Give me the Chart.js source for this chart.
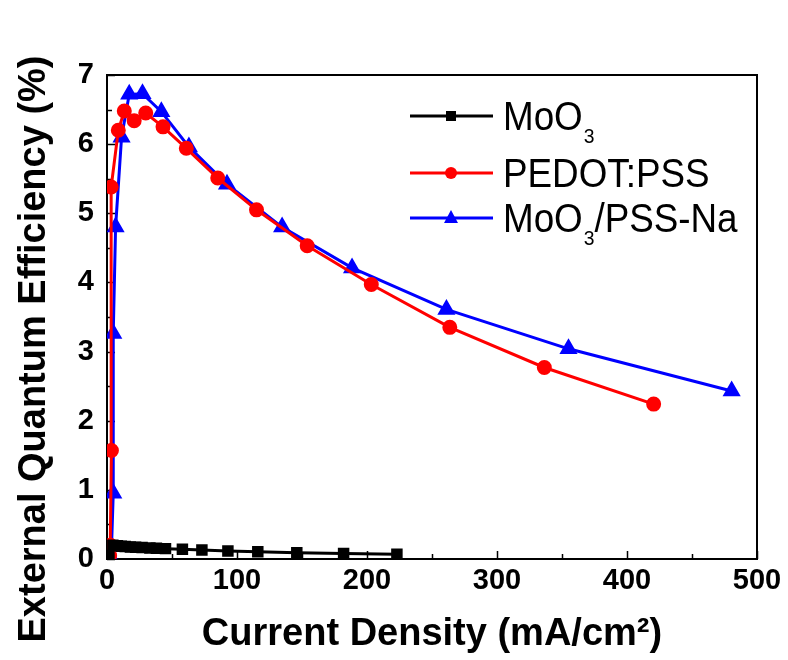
<!DOCTYPE html>
<html>
<head>
<meta charset="utf-8">
<script src="https://cdn.jsdelivr.net/npm/chart.js@4.4.1/dist/chart.umd.min.js"></script>
<style>
  html, body { margin: 0; padding: 0; background: #fff; }
  #wrap { width: 788px; height: 660px; }
</style>
</head>
<body>
<div id="wrap"><canvas id="eqeChart" width="788" height="660"></canvas></div>
<script>
// data
const moo3X = [1.5, 4.5, 8, 11, 14, 18, 22, 27, 33, 38, 45, 58, 73, 93, 116, 146, 182, 223];
const moo3Y = [0.05, 0.2, 0.19, 0.185, 0.18, 0.175, 0.17, 0.165, 0.16, 0.155, 0.15, 0.14, 0.13, 0.115, 0.105, 0.09, 0.08, 0.07];

const pedotX = [2, 2.5, 3.4, 3.2, 8.7, 13.3, 20.9, 29.8, 43.1, 61, 85.2, 115, 154, 203.3, 263.7, 336.4, 420.5];
const pedotY = [0.05, 0.2, 1.57, 5.38, 6.2, 6.48, 6.34, 6.45, 6.25, 5.94, 5.51, 5.05, 4.53, 3.97, 3.35, 2.77, 2.24];

const naX = [2, 3.5, 4.8, 4.8, 6.6, 11.2, 17.1, 27.3, 41.8, 63, 92.3, 134.7, 188.5, 261.1, 355, 480.5];
const naY = [0.05, 0.18, 0.95, 3.26, 4.8, 6.1, 6.72, 6.73, 6.47, 5.96, 5.42, 4.8, 4.21, 3.61, 3.04, 2.43];

const xTicks = [0, 100, 200, 300, 400, 500];
const yTicks = [0, 1, 2, 3, 4, 5, 6, 7];

const seriesNames = ['MoO3', 'PEDOT:PSS', 'MoO3/PSS-Na'];
const seriesColors = ['#000000', '#ff0000', '#0000ff'];
const seriesMarkers = ['rect', 'circle', 'triangle'];

const FONT = "'Liberation Sans', Arial, sans-serif";

function pts(xs, ys) {
  return xs.map((x, i) => ({ x: x, y: ys[i] }));
}

// frame, inward ticks, y title and legend
const decor = {
  id: 'decor',
  beforeDatasetsDraw(chart) {
    const { ctx, chartArea: a, scales: { x, y } } = chart;
    ctx.save();
    ctx.strokeStyle = '#000';
    ctx.lineWidth = 1.5;
    ctx.beginPath();
    // y ticks (major + half step)
    for (let v = 0; v <= 7; v += 0.5) {
      const py = Math.round(y.getPixelForValue(v)) + 0.5;
      const len = (v % 1 === 0) ? 8 : 5;
      ctx.moveTo(a.left, py);
      ctx.lineTo(a.left + len, py);
    }
    for (let v = 0; v <= 500; v += 50) {
      const px = Math.round(x.getPixelForValue(v)) + 0.5;
      const len = (v % 100 === 0) ? 8 : 5;
      ctx.moveTo(px, a.bottom);
      ctx.lineTo(px, a.bottom - len);
    }
    ctx.stroke();
    ctx.lineWidth = 2;
    ctx.strokeRect(a.left, a.top, a.right - a.left, a.bottom - a.top);
    ctx.restore();
  },
  afterDraw(chart) {
    const { ctx } = chart;
    ctx.save();
    // y axis title
    ctx.translate(35, 349);
    ctx.rotate(-Math.PI / 2);
    ctx.fillStyle = '#000';
    ctx.font = 'bold 38px ' + FONT;
    ctx.textAlign = 'center';
    ctx.textBaseline = 'middle';
    ctx.fillText('External Quantum Efficiency (%)', 0, 0);
    ctx.restore();

    // legend
    const rows = [116, 173, 218];
    ctx.save();
    ctx.lineWidth = 3;
    rows.forEach((ry, i) => {
      const col = seriesColors[i];
      ctx.strokeStyle = col;
      ctx.fillStyle = col;
      ctx.beginPath();
      ctx.moveTo(410, ry);
      ctx.lineTo(493, ry);
      ctx.stroke();
      const mx = 451;
      ctx.beginPath();
      if (seriesMarkers[i] === 'rect') {
        ctx.fillRect(mx - 5, ry - 5, 10, 10);
      } else if (seriesMarkers[i] === 'circle') {
        ctx.arc(mx, ry, 6, 0, Math.PI * 2);
        ctx.fill();
      } else {
        ctx.moveTo(mx, ry - 8);
        ctx.lineTo(mx + 7, ry + 5);
        ctx.lineTo(mx - 7, ry + 5);
        ctx.closePath();
        ctx.fill();
      }
      // label with subscript 3, slightly narrowed like the original
      ctx.save();
      ctx.translate(503, ry + 14);
      ctx.scale(0.92, 1);
      ctx.fillStyle = '#000';
      ctx.textBaseline = 'alphabetic';
      ctx.textAlign = 'left';
      let tx = 0;
      const parts = seriesNames[i].split(/(3)/);
      parts.forEach(p => {
        if (p === '3') {
          ctx.font = '21px ' + FONT;
          ctx.fillText(p, tx + 1, 13);
          tx += ctx.measureText(p).width + 1;
        } else if (p) {
          ctx.font = '40px ' + FONT;
          ctx.fillText(p, tx, 0);
          tx += ctx.measureText(p).width;
        }
      });
      ctx.restore();
    });
    ctx.restore();
  }
};

const ctx = document.getElementById('eqeChart').getContext('2d');
new Chart(ctx, {
  type: 'scatter',
  data: {
    datasets: [
      { label: seriesNames[0], data: pts(moo3X, moo3Y), borderColor: seriesColors[0], backgroundColor: seriesColors[0],
        pointStyle: 'rect', pointRadius: 6, showLine: true, borderWidth: 3 },
      { label: seriesNames[1], data: pts(pedotX, pedotY), borderColor: seriesColors[1], backgroundColor: seriesColors[1],
        pointStyle: 'circle', pointRadius: 6, showLine: true, borderWidth: 3 },
      { label: seriesNames[2], data: pts(naX, naY), borderColor: seriesColors[2], backgroundColor: seriesColors[2],
        pointStyle: 'triangle', pointRadius: 7.5, showLine: true, borderWidth: 3 }
    ]
  },
  options: {
    responsive: false,
    animation: false,
    layout: { padding: { top: 75, right: 31, left: 0, bottom: 0 } },
    plugins: { legend: { display: false }, tooltip: { enabled: false } },
    scales: {
      x: {
        type: 'linear', min: 0, max: 500,
        afterBuildTicks: s => { s.ticks = xTicks.map(v => ({ value: v })); },
        afterFit: s => { s.height = 101; },
        grid: { display: false, drawTicks: false },
        border: { display: false },
        ticks: { color: '#000', padding: 5, font: { family: FONT, size: 29, weight: 'bold' } },
        title: { display: true, text: 'Current Density (mA/cm²)', color: '#000', padding: { top: 0, bottom: 3 },
                 font: { family: FONT, size: 38, weight: 'bold' } }
      },
      y: {
        type: 'linear', min: 0, max: 7,
        afterBuildTicks: s => { s.ticks = yTicks.map(v => ({ value: v })); },
        afterFit: s => { s.width = 107; },
        grid: { display: false, drawTicks: false },
        border: { display: false },
        ticks: { color: '#000', padding: 13, font: { family: FONT, size: 29, weight: 'bold' } }
      }
    }
  },
  plugins: [decor]
});
</script>
</body>
</html>
